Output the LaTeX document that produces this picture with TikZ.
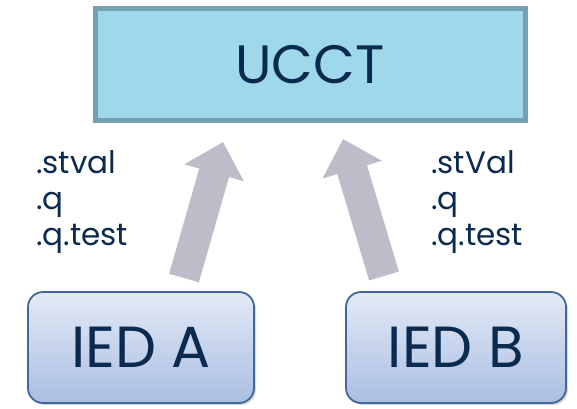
\documentclass[tikz,border=0pt]{standalone}
\usepackage{fontspec}
\setmainfont{Poppins}
\usetikzlibrary{arrows.meta,positioning,shadows}
\definecolor{uccfill}{HTML}{9FD8EB}
\definecolor{uccline}{HTML}{74A0B0}
\definecolor{iedtop}{HTML}{E4EAF6}
\definecolor{iedbot}{HTML}{A9BEE2}
\definecolor{iedline}{HTML}{41689C}
\definecolor{navy}{HTML}{0B2A4F}
\definecolor{flowgray}{HTML}{BDBCC8}

\begin{document}
\begin{tikzpicture}[
    x=1pt, y=-1pt,
    server/.style={rectangle, draw=uccline, fill=uccfill, line width=5pt, minimum width=430pt, minimum height=112pt, text=navy, font=\fontsize{54}{60}\selectfont,
      drop shadow={shadow xshift=1.5pt, shadow yshift=-1.5pt, opacity=.2}},
    device/.style={rectangle, draw=iedline, line width=1.8pt, top color=iedtop, bottom color=iedbot, rounded corners=15pt, minimum height=111pt, text=navy, font=\fontsize{58}{64}\selectfont,
      drop shadow={shadow xshift=2pt, shadow yshift=-2pt, opacity=.3}},
    attrs/.style={anchor=north west, inner sep=0pt, align=left, text=navy, font=\fontsize{31}{36}\selectfont},
    line/.style={draw=flowgray, line width=31pt, -{Triangle[width=60pt, length=32pt]}}
  ]
    \useasboundingbox (0,0) rectangle (577,408);

    \node [server] (ucct) at (310,64.5) {UCCT};
    \node [device, minimum width=226pt] (ieda) at (141,347.5) {IED A};
    \node [device, minimum width=220pt] (iedb) at (456,347.5) {IED B};

    \node [attrs] (attra) at (36,150) {.stval\\.q\\.q.test};
    \node [attrs] (attrb) at (431,150) {.stVal\\.q\\.q.test};

    % report flows
    \coordinate (srca) at (184,278);
    \coordinate (dsta) at (223,142);
    \coordinate (srcb) at (384,276);
    \coordinate (dstb) at (343,139);
    \path [line] (srca) -- (dsta);
    \path [line] (srcb) -- (dstb);
\end{tikzpicture}
\end{document}
